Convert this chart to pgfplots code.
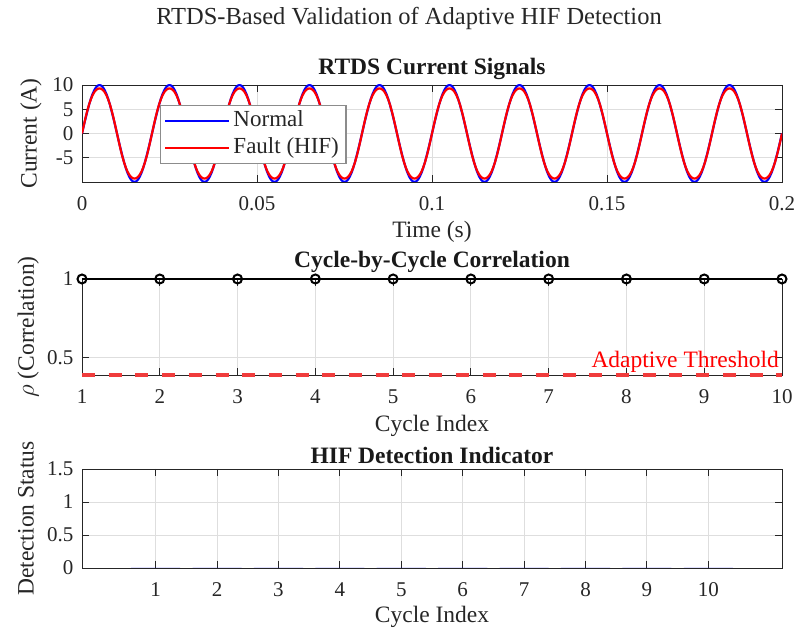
\documentclass[border=0pt]{standalone}
\usepackage{fontspec}
\setmainfont{Liberation Serif}
\usepackage{pgfplots}
\usepackage{pgfplotstable}
\pgfplotsset{compat=1.18}
\definecolor{axgray}{RGB}{38,38,38}
\definecolor{gridgray}{RGB}{222,222,222}
\definecolor{leggray}{RGB}{140,140,140}
\definecolor{mblue}{RGB}{0,0,255}
\definecolor{mred}{RGB}{255,0,0}
\definecolor{thred}{RGB}{240,60,60}

\pgfplotstableread{
t n f
0.0000 0 0
0.0005 1.564 1.638
0.0010 3.090 3.209
0.0015 4.540 4.655
0.0020 5.878 5.928
0.0025 7.071 7.000
0.0030 8.090 7.859
0.0035 8.910 8.507
0.0040 9.511 8.954
0.0045 9.877 9.214
0.0050 10 9.300
0.0055 9.877 9.214
0.0060 9.511 8.954
0.0065 8.910 8.507
0.0070 8.090 7.859
0.0075 7.071 7.000
0.0080 5.878 5.928
0.0085 4.540 4.655
0.0090 3.090 3.209
0.0095 1.564 1.638
0.0100 0 0
0.0105 -1.564 -1.638
0.0110 -3.090 -3.209
0.0115 -4.540 -4.655
0.0120 -5.878 -5.928
0.0125 -7.071 -7.000
0.0130 -8.090 -7.859
0.0135 -8.910 -8.507
0.0140 -9.511 -8.954
0.0145 -9.877 -9.214
0.0150 -10 -9.300
0.0155 -9.877 -9.214
0.0160 -9.511 -8.954
0.0165 -8.910 -8.507
0.0170 -8.090 -7.859
0.0175 -7.071 -7.000
0.0180 -5.878 -5.928
0.0185 -4.540 -4.655
0.0190 -3.090 -3.209
0.0195 -1.564 -1.638
0.0200 0 0
0.0205 1.564 1.638
0.0210 3.090 3.209
0.0215 4.540 4.655
0.0220 5.878 5.928
0.0225 7.071 7.000
0.0230 8.090 7.859
0.0235 8.910 8.507
0.0240 9.511 8.954
0.0245 9.877 9.214
0.0250 10 9.300
0.0255 9.877 9.214
0.0260 9.511 8.954
0.0265 8.910 8.507
0.0270 8.090 7.859
0.0275 7.071 7.000
0.0280 5.878 5.928
0.0285 4.540 4.655
0.0290 3.090 3.209
0.0295 1.564 1.638
0.0300 0 0
0.0305 -1.564 -1.638
0.0310 -3.090 -3.209
0.0315 -4.540 -4.655
0.0320 -5.878 -5.928
0.0325 -7.071 -7.000
0.0330 -8.090 -7.859
0.0335 -8.910 -8.507
0.0340 -9.511 -8.954
0.0345 -9.877 -9.214
0.0350 -10 -9.300
0.0355 -9.877 -9.214
0.0360 -9.511 -8.954
0.0365 -8.910 -8.507
0.0370 -8.090 -7.859
0.0375 -7.071 -7.000
0.0380 -5.878 -5.928
0.0385 -4.540 -4.655
0.0390 -3.090 -3.209
0.0395 -1.564 -1.638
0.0400 0 0
0.0405 1.564 1.638
0.0410 3.090 3.209
0.0415 4.540 4.655
0.0420 5.878 5.928
0.0425 7.071 7.000
0.0430 8.090 7.859
0.0435 8.910 8.507
0.0440 9.511 8.954
0.0445 9.877 9.214
0.0450 10 9.300
0.0455 9.877 9.214
0.0460 9.511 8.954
0.0465 8.910 8.507
0.0470 8.090 7.859
0.0475 7.071 7.000
0.0480 5.878 5.928
0.0485 4.540 4.655
0.0490 3.090 3.209
0.0495 1.564 1.638
0.0500 0 0
0.0505 -1.564 -1.638
0.0510 -3.090 -3.209
0.0515 -4.540 -4.655
0.0520 -5.878 -5.928
0.0525 -7.071 -7.000
0.0530 -8.090 -7.859
0.0535 -8.910 -8.507
0.0540 -9.511 -8.954
0.0545 -9.877 -9.214
0.0550 -10 -9.300
0.0555 -9.877 -9.214
0.0560 -9.511 -8.954
0.0565 -8.910 -8.507
0.0570 -8.090 -7.859
0.0575 -7.071 -7.000
0.0580 -5.878 -5.928
0.0585 -4.540 -4.655
0.0590 -3.090 -3.209
0.0595 -1.564 -1.638
0.0600 0 0
0.0605 1.564 1.638
0.0610 3.090 3.209
0.0615 4.540 4.655
0.0620 5.878 5.928
0.0625 7.071 7.000
0.0630 8.090 7.859
0.0635 8.910 8.507
0.0640 9.511 8.954
0.0645 9.877 9.214
0.0650 10 9.300
0.0655 9.877 9.214
0.0660 9.511 8.954
0.0665 8.910 8.507
0.0670 8.090 7.859
0.0675 7.071 7.000
0.0680 5.878 5.928
0.0685 4.540 4.655
0.0690 3.090 3.209
0.0695 1.564 1.638
0.0700 0 0
0.0705 -1.564 -1.638
0.0710 -3.090 -3.209
0.0715 -4.540 -4.655
0.0720 -5.878 -5.928
0.0725 -7.071 -7.000
0.0730 -8.090 -7.859
0.0735 -8.910 -8.507
0.0740 -9.511 -8.954
0.0745 -9.877 -9.214
0.0750 -10 -9.300
0.0755 -9.877 -9.214
0.0760 -9.511 -8.954
0.0765 -8.910 -8.507
0.0770 -8.090 -7.859
0.0775 -7.071 -7.000
0.0780 -5.878 -5.928
0.0785 -4.540 -4.655
0.0790 -3.090 -3.209
0.0795 -1.564 -1.638
0.0800 0 0
0.0805 1.564 1.638
0.0810 3.090 3.209
0.0815 4.540 4.655
0.0820 5.878 5.928
0.0825 7.071 7.000
0.0830 8.090 7.859
0.0835 8.910 8.507
0.0840 9.511 8.954
0.0845 9.877 9.214
0.0850 10 9.300
0.0855 9.877 9.214
0.0860 9.511 8.954
0.0865 8.910 8.507
0.0870 8.090 7.859
0.0875 7.071 7.000
0.0880 5.878 5.928
0.0885 4.540 4.655
0.0890 3.090 3.209
0.0895 1.564 1.638
0.0900 0 0
0.0905 -1.564 -1.638
0.0910 -3.090 -3.209
0.0915 -4.540 -4.655
0.0920 -5.878 -5.928
0.0925 -7.071 -7.000
0.0930 -8.090 -7.859
0.0935 -8.910 -8.507
0.0940 -9.511 -8.954
0.0945 -9.877 -9.214
0.0950 -10 -9.300
0.0955 -9.877 -9.214
0.0960 -9.511 -8.954
0.0965 -8.910 -8.507
0.0970 -8.090 -7.859
0.0975 -7.071 -7.000
0.0980 -5.878 -5.928
0.0985 -4.540 -4.655
0.0990 -3.090 -3.209
0.0995 -1.564 -1.638
0.1000 0 0
0.1005 1.564 1.638
0.1010 3.090 3.209
0.1015 4.540 4.655
0.1020 5.878 5.928
0.1025 7.071 7.000
0.1030 8.090 7.859
0.1035 8.910 8.507
0.1040 9.511 8.954
0.1045 9.877 9.214
0.1050 10 9.300
0.1055 9.877 9.214
0.1060 9.511 8.954
0.1065 8.910 8.507
0.1070 8.090 7.859
0.1075 7.071 7.000
0.1080 5.878 5.928
0.1085 4.540 4.655
0.1090 3.090 3.209
0.1095 1.564 1.638
0.1100 0 0
0.1105 -1.564 -1.638
0.1110 -3.090 -3.209
0.1115 -4.540 -4.655
0.1120 -5.878 -5.928
0.1125 -7.071 -7.000
0.1130 -8.090 -7.859
0.1135 -8.910 -8.507
0.1140 -9.511 -8.954
0.1145 -9.877 -9.214
0.1150 -10 -9.300
0.1155 -9.877 -9.214
0.1160 -9.511 -8.954
0.1165 -8.910 -8.507
0.1170 -8.090 -7.859
0.1175 -7.071 -7.000
0.1180 -5.878 -5.928
0.1185 -4.540 -4.655
0.1190 -3.090 -3.209
0.1195 -1.564 -1.638
0.1200 0 0
0.1205 1.564 1.638
0.1210 3.090 3.209
0.1215 4.540 4.655
0.1220 5.878 5.928
0.1225 7.071 7.000
0.1230 8.090 7.859
0.1235 8.910 8.507
0.1240 9.511 8.954
0.1245 9.877 9.214
0.1250 10 9.300
0.1255 9.877 9.214
0.1260 9.511 8.954
0.1265 8.910 8.507
0.1270 8.090 7.859
0.1275 7.071 7.000
0.1280 5.878 5.928
0.1285 4.540 4.655
0.1290 3.090 3.209
0.1295 1.564 1.638
0.1300 0 0
0.1305 -1.564 -1.638
0.1310 -3.090 -3.209
0.1315 -4.540 -4.655
0.1320 -5.878 -5.928
0.1325 -7.071 -7.000
0.1330 -8.090 -7.859
0.1335 -8.910 -8.507
0.1340 -9.511 -8.954
0.1345 -9.877 -9.214
0.1350 -10 -9.300
0.1355 -9.877 -9.214
0.1360 -9.511 -8.954
0.1365 -8.910 -8.507
0.1370 -8.090 -7.859
0.1375 -7.071 -7.000
0.1380 -5.878 -5.928
0.1385 -4.540 -4.655
0.1390 -3.090 -3.209
0.1395 -1.564 -1.638
0.1400 0 0
0.1405 1.564 1.638
0.1410 3.090 3.209
0.1415 4.540 4.655
0.1420 5.878 5.928
0.1425 7.071 7.000
0.1430 8.090 7.859
0.1435 8.910 8.507
0.1440 9.511 8.954
0.1445 9.877 9.214
0.1450 10 9.300
0.1455 9.877 9.214
0.1460 9.511 8.954
0.1465 8.910 8.507
0.1470 8.090 7.859
0.1475 7.071 7.000
0.1480 5.878 5.928
0.1485 4.540 4.655
0.1490 3.090 3.209
0.1495 1.564 1.638
0.1500 0 0
0.1505 -1.564 -1.638
0.1510 -3.090 -3.209
0.1515 -4.540 -4.655
0.1520 -5.878 -5.928
0.1525 -7.071 -7.000
0.1530 -8.090 -7.859
0.1535 -8.910 -8.507
0.1540 -9.511 -8.954
0.1545 -9.877 -9.214
0.1550 -10 -9.300
0.1555 -9.877 -9.214
0.1560 -9.511 -8.954
0.1565 -8.910 -8.507
0.1570 -8.090 -7.859
0.1575 -7.071 -7.000
0.1580 -5.878 -5.928
0.1585 -4.540 -4.655
0.1590 -3.090 -3.209
0.1595 -1.564 -1.638
0.1600 0 0
0.1605 1.564 1.638
0.1610 3.090 3.209
0.1615 4.540 4.655
0.1620 5.878 5.928
0.1625 7.071 7.000
0.1630 8.090 7.859
0.1635 8.910 8.507
0.1640 9.511 8.954
0.1645 9.877 9.214
0.1650 10 9.300
0.1655 9.877 9.214
0.1660 9.511 8.954
0.1665 8.910 8.507
0.1670 8.090 7.859
0.1675 7.071 7.000
0.1680 5.878 5.928
0.1685 4.540 4.655
0.1690 3.090 3.209
0.1695 1.564 1.638
0.1700 0 0
0.1705 -1.564 -1.638
0.1710 -3.090 -3.209
0.1715 -4.540 -4.655
0.1720 -5.878 -5.928
0.1725 -7.071 -7.000
0.1730 -8.090 -7.859
0.1735 -8.910 -8.507
0.1740 -9.511 -8.954
0.1745 -9.877 -9.214
0.1750 -10 -9.300
0.1755 -9.877 -9.214
0.1760 -9.511 -8.954
0.1765 -8.910 -8.507
0.1770 -8.090 -7.859
0.1775 -7.071 -7.000
0.1780 -5.878 -5.928
0.1785 -4.540 -4.655
0.1790 -3.090 -3.209
0.1795 -1.564 -1.638
0.1800 0 0
0.1805 1.564 1.638
0.1810 3.090 3.209
0.1815 4.540 4.655
0.1820 5.878 5.928
0.1825 7.071 7.000
0.1830 8.090 7.859
0.1835 8.910 8.507
0.1840 9.511 8.954
0.1845 9.877 9.214
0.1850 10 9.300
0.1855 9.877 9.214
0.1860 9.511 8.954
0.1865 8.910 8.507
0.1870 8.090 7.859
0.1875 7.071 7.000
0.1880 5.878 5.928
0.1885 4.540 4.655
0.1890 3.090 3.209
0.1895 1.564 1.638
0.1900 0 0
0.1905 -1.564 -1.638
0.1910 -3.090 -3.209
0.1915 -4.540 -4.655
0.1920 -5.878 -5.928
0.1925 -7.071 -7.000
0.1930 -8.090 -7.859
0.1935 -8.910 -8.507
0.1940 -9.511 -8.954
0.1945 -9.877 -9.214
0.1950 -10 -9.300
0.1955 -9.877 -9.214
0.1960 -9.511 -8.954
0.1965 -8.910 -8.507
0.1970 -8.090 -7.859
0.1975 -7.071 -7.000
0.1980 -5.878 -5.928
0.1985 -4.540 -4.655
0.1990 -3.090 -3.209
0.1995 -1.564 -1.638
0.2000 0 0
}\sig

\pgfplotsset{
  myax/.style={
    scale only axis, width=700pt,
    axis line style={axgray, line width=0.9pt},
    every tick/.style={axgray, line width=0.9pt},
    major tick length=7pt,
    tick align=inside,
    grid=major,
    major grid style={gridgray, line width=0.9pt},
    tick label style={font=\fontsize{21}{24}\selectfont, text=axgray},
    xticklabel style={yshift=-11pt},
    yticklabel style={xshift=-5pt},
    label style={font=\fontsize{23.5}{27}\selectfont, text=axgray},
    title style={font=\fontsize{23.5}{27}\selectfont\bfseries, text=black!90},
    every axis title shift=0pt,
    /pgf/number format/assume math mode=true,
    scaled ticks=false,
  }
}

\begin{document}
\begin{tikzpicture}[x=1pt,y=1pt]
\useasboundingbox (0,0) rectangle (797,631);
\node[font=\fontsize{24.5}{28}\selectfont, text=black!85] at (409,613) {RTDS-Based Validation of Adaptive HIF Detection};

% --- Top: current signals
\begin{axis}[myax, at={(82pt,449pt)}, anchor=south west, height=97pt,
  xmin=0, xmax=0.2, ymin=-10, ymax=10,
  xtick={0,0.05,0.1,0.15,0.2}, xticklabels={0,0.05,0.1,0.15,0.2},
  ytick={-5,0,5,10}, yticklabels={-5,0,5,10},
  title={RTDS Current Signals},
  title style={at={(axis description cs:0.5,1.165)}, anchor=center},
  xlabel={Time (s)}, ylabel={Current (A)},
  xlabel style={at={(axis description cs:0.5,-0.515)}, anchor=center},
  ylabel style={at={(axis description cs:-0.073,0.5)}, anchor=center},
  legend style={at={(axis description cs:0.111,0.794)}, anchor=north west,
    draw=leggray, line width=1.2pt, fill=white,
    font=\fontsize{23}{26}\selectfont, text=axgray,
    inner xsep=4pt, inner ysep=2pt, row sep=0pt,
    nodes={text height=17pt, text depth=6pt, inner ysep=2pt, inner xsep=3pt},
    cells={anchor=west}},
  legend image code/.code={\draw[#1] (0pt,0pt) -- (64pt,0pt);},
]
\addplot[mblue, line width=2.2pt] table[x=t, y=n] {\sig};
\addlegendentry{Normal}
\addplot[mred, line width=2.2pt] table[x=t, y=f] {\sig};
\addlegendentry{Fault (HIF)}
\end{axis}

% --- Middle: correlation
\begin{axis}[myax, at={(82pt,256pt)}, anchor=south west, height=96pt,
  xmin=1, xmax=10, ymin=0.39, ymax=1, clip=false,
  xtick={1,2,3,4,5,6,7,8,9,10},
  ytick={0.5,1}, yticklabels={0.5,1},
  title={Cycle-by-Cycle Correlation},
  title style={at={(axis description cs:0.5,1.177)}, anchor=center},
  xlabel={Cycle Index}, ylabel={$\rho$ (Correlation)},
  xlabel style={at={(axis description cs:0.5,-0.53)}, anchor=center},
  ylabel style={at={(axis description cs:-0.077,0.5)}, anchor=center},
]
\addplot[thred, line width=3.6pt, dash pattern=on 13pt off 13.7pt] coordinates {(1,0.39) (10,0.39)};
\addplot[black, line width=2pt, mark=o, mark size=4.5pt, mark options={line width=2pt, solid}]
  coordinates {(1,1) (2,1) (3,1) (4,1) (5,1) (6,1) (7,1) (8,1) (9,1) (10,1)};
\node[anchor=south east, text=mred, font=\fontsize{23.5}{27}\selectfont, inner xsep=3pt, inner ysep=2pt] at (axis cs:10,0.39) {Adaptive Threshold};
\end{axis}

% --- Bottom: detection indicator
\begin{axis}[myax, at={(82pt,63pt)}, anchor=south west, height=99pt,
  xmin=-0.2, xmax=11.2, ymin=0, ymax=1.5,
  xtick={1,2,3,4,5,6,7,8,9,10},
  ytick={0,0.5,1,1.5}, yticklabels={0,0.5,1,1.5},
  title={HIF Detection Indicator},
  title style={at={(axis description cs:0.5,1.141)}, anchor=center},
  xlabel={Cycle Index}, ylabel={Detection Status},
  xlabel style={at={(axis description cs:0.5,-0.495)}, anchor=center},
  ylabel style={at={(axis description cs:-0.08,0.5)}, anchor=center},
]
\addplot[ybar, bar width=0.8, fill=mblue, draw=none]
  coordinates {(1,0) (2,0) (3,0) (4,0) (5,0) (6,0) (7,0) (8,0) (9,0) (10,0)};
\end{axis}
\end{tikzpicture}
\end{document}
